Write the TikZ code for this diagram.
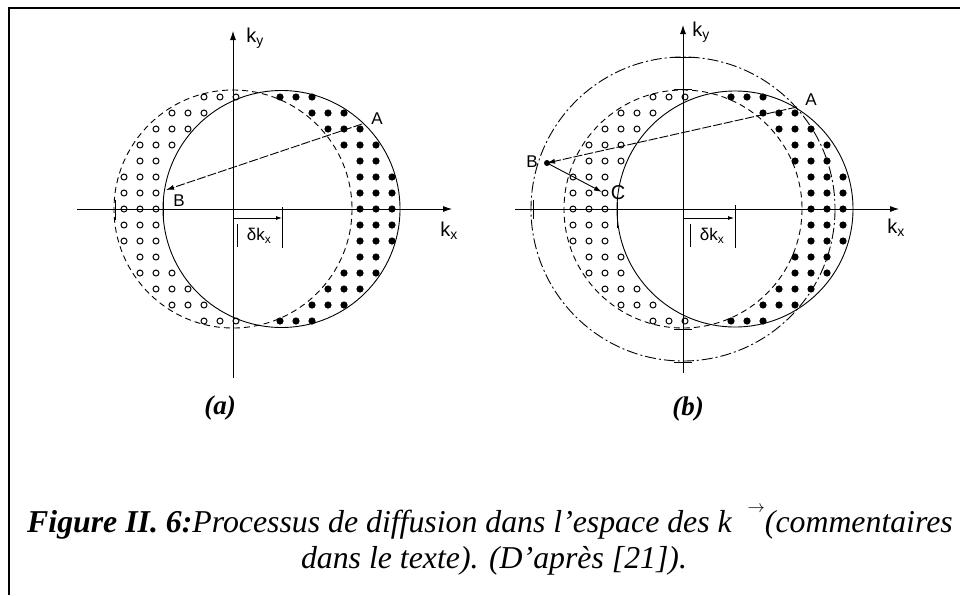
\documentclass[tikz,border=0pt]{standalone}
\usepackage{fontspec}
\setmainfont{Liberation Serif}
\newfontfamily\lsans{Liberation Sans}
\usetikzlibrary{arrows.meta}
\tikzset{
  axisarrow/.style={line width=0.8pt, -{Latex[length=9pt,width=6pt]}},
  fermi/.style={line width=0.9pt, dash pattern=on 6pt off 4pt},
  shifted/.style={line width=0.9pt},
  bigcirc/.style={line width=0.9pt, dash pattern=on 11pt off 3pt on 2pt off 3pt},
  fdot/.style={fill=black, draw=none},
  odot/.style={draw=black, line width=1pt, fill=white},
  lab/.style={font=\lsans\fontsize{17}{17}\selectfont, inner sep=0pt},
  klab/.style={font=\lsans\fontsize{20}{20}\selectfont, inner sep=0pt},
  ticks/.style={line width=0.9pt},
  scat/.style={line width=0.9pt, dash pattern=on 9pt off 2pt, -{Latex[length=8pt,width=5pt]}},
  scatb/.style={line width=0.9pt, -{Latex[length=8pt,width=5pt]}},
  dk/.style={line width=0.8pt, -{Latex[length=6pt,width=4pt]}},
  subl/.style={font=\fontsize{27}{27}\selectfont\bfseries\itshape, inner sep=0pt},
  capt/.style={font=\fontsize{31.8}{31.8}\selectfont\itshape, inner sep=0pt, anchor=base},
}
% #1 style, #2 cx inside, #3 r inside, #4 cx excluded, #5 r excluded, #6 grid x0, #7 dot radius
\newcommand{\crescentdots}[7]{%
  \foreach \i in {-18,...,18}{%
    \foreach \j in {-8,...,8}{%
      \pgfmathsetmacro{\px}{#6+16*\i}%
      \pgfmathsetmacro{\py}{209+16*\j}%
      \pgfmathsetmacro{\okA}{((\px-#2)/100)^2+((\py-209)/100)^2 <= ((#3-2)/100)^2}%
      \pgfmathsetmacro{\okB}{((\px-#4)/100)^2+((\py-209)/100)^2 >= ((#5+2)/100)^2}%
      \pgfmathsetmacro{\ok}{\okA*\okB}%
      \ifdim\ok pt>0.5pt \path[#1] (\px,\py) circle[radius=#7]; \fi
    }%
  }%
}
\begin{document}
\begin{tikzpicture}[x=1pt,y=-1pt]
\useasboundingbox (0,0) rectangle (960,595);
\fill[white] (0,0) rectangle (960,595);
% frame
\draw[line width=1.5pt] (9,595) -- (9,8) -- (960,8);

% ================= (a) =================
\crescentdots{odot}{233}{119}{281.5}{118.5}{140}{3}
\crescentdots{fdot}{281.5}{118.5}{233}{119}{376}{3.6}
\draw[fermi] (233,209) circle[radius=119];
\draw[shifted] (281.5,209) circle[radius=118.5];
\coordinate (axaS) at (77,209);
\coordinate (axaE) at (452,209);
\coordinate (ayaS) at (233,378);
\coordinate (ayaE) at (233,31);
\draw[axisarrow] (axaS) -- (axaE);
\draw[axisarrow] (ayaS) -- (ayaE);
\draw[ticks] (115,200) -- (115,220);
\draw[ticks] (163,196) -- (163,222);
\node[klab] (kya) at (255,38) {k\textsubscript{y}};
\node[klab] (kxa) at (449,231) {k\textsubscript{x}};
\coordinate (pAa) at (362,124);
\coordinate (pBa) at (166,190);
\draw[scat] (pAa) -- (pBa);
\node[lab] (Aa) at (377,119) {A};
\node[lab] (Ba) at (179,201) {B};
\coordinate (dkaS) at (233,218);
\coordinate (dkaE) at (282,218);
\draw[dk] (dkaS) -- (dkaE);
\draw[ticks] (282,207) -- (282,248);
\draw[ticks] (237,224) -- (237,247);
\node[lab] (dka) at (259,236) {δk\textsubscript{x}};
\node[subl] (la) at (220,408) {(a)};

% ================= (b) =================
\crescentdots{odot}{683}{119}{735}{118}{589}{3}
\crescentdots{fdot}{735}{118}{683}{119}{827}{3.6}
\draw[fermi] (683,209) circle[radius=119];
\draw[shifted] (735,209) circle[radius=118];
\draw[bigcirc] (683,209) circle[radius=152];
\coordinate (axbS) at (515,209);
\coordinate (axbE) at (899,209);
\coordinate (aybS) at (683,373);
\coordinate (aybE) at (683,25);
\draw[axisarrow] (axbS) -- (axbE);
\draw[axisarrow] (aybS) -- (aybE);
\draw[ticks] (533,200) -- (533,219);
\draw[ticks] (617,202) -- (617,228);
\draw[ticks] (674,57) -- (692,57);
\draw[ticks] (674,89) -- (692,89);
\draw[ticks] (674,329) -- (692,329);
\draw[ticks] (674,362) -- (692,362);
\node[klab] (kyb) at (701,32) {k\textsubscript{y}};
\node[klab] (kxb) at (896,228) {k\textsubscript{x}};
\coordinate (pAb) at (797,107);
\coordinate (pBb) at (547,163);
\coordinate (pCb) at (602,192);
\draw[scat] (pAb) -- (pBb);
\draw[scatb] (pBb) -- (pCb);
\fill (pBb) circle[radius=3];
\node[lab] (Ab) at (811,100) {A};
\node[lab] (Bb) at (532,162) {B};
\node[lab,font=\lsans\fontsize{20}{20}\selectfont] (Cb) at (618,193) {C};
\coordinate (dkbS) at (683,218);
\coordinate (dkbE) at (734,218);
\draw[dk] (dkbS) -- (dkbE);
\draw[ticks] (735,205) -- (735,248);
\draw[ticks] (690,224) -- (690,247);
\node[lab] (dkb) at (712,236) {δk\textsubscript{x}};
\node[subl] (lb) at (688,409) {(b)};

% ================= caption =================
\node[capt] (cap1) at (490,532) {\textbf{Figure II. 6:}Processus de diffusion dans l’espace des k\ \ \raisebox{0.62em}{$\scriptscriptstyle\rightarrow$}(commentaires};
\node[capt] (cap2) at (494,568) {dans le texte). (D’après [21]).};
\end{tikzpicture}
\end{document}
